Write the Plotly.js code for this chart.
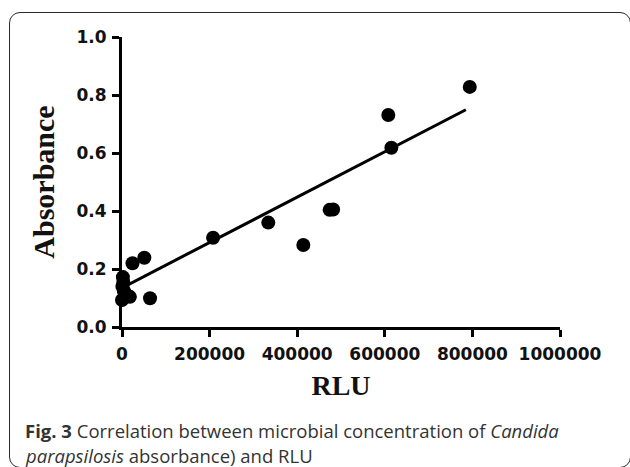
<!DOCTYPE html>
<html>
<head>
<meta charset="utf-8">
<script src="https://cdn.plot.ly/plotly-3.0.1.min.js"></script>
<style>
  html, body { margin: 0; padding: 0; background: #fff; }
  #wrap { position: relative; width: 630px; height: 467px; overflow: hidden; }
  #chart { width: 630px; height: 467px; }
  #frame { position: absolute; left: 9px; top: 12px; width: 622px; height: 456px;
           border: 1.6px solid #2a2a2a; border-radius: 11px; box-sizing: border-box; pointer-events: none; }
</style>
</head>
<body>
<div id="wrap">
  <div id="chart"></div>
  <div id="frame"></div>
</div>
<script>
// Data
const rlu = [0, 2000, 3000, 1000, 4000, 6000, 11000, 18000, 24000, 51000, 64000, 208000, 334000, 414000, 474000, 482000, 608000, 615000, 794000];
const absorbance = [0.093, 0.172, 0.155, 0.140, 0.125, 0.118, 0.110, 0.104, 0.220, 0.239, 0.099, 0.308, 0.360, 0.283, 0.404, 0.405, 0.731, 0.618, 0.828];
// Fitted regression line endpoints (as drawn in the reference)
const fitX = [0, 785000];
const fitY = [0.135, 0.749];
const xTicks = [0, 200000, 400000, 600000, 800000, 1000000];
const xTickText = ['0', '200000', '400000', '600000', '800000', '1000000'];
const yTicks = [0, 0.2, 0.4, 0.6, 0.8, 1.0];
const yTickText = ['0.0', '0.2', '0.4', '0.6', '0.8', '1.0'];

const W = 630, H = 467;
const M = {l: 122, r: 70, t: 37, b: 140};
const pw = W - M.l - M.r, ph = H - M.t - M.b;
const px2x = p => (p - M.l) / pw;
const py2y = p => (H - M.b - p) / ph;

const tickFont = {family: 'DejaVu Sans', size: 17, color: '#111', weight: 'bold'};
const titleFont = {family: 'Liberation Serif', size: 28, color: '#111', weight: 'bold'};
const yTitleFont = {family: 'Liberation Serif', size: 30, color: '#111', weight: 'bold'};
const capFont = {family: 'Open Sans', size: 18.5, color: '#333'};

const traces = [
  {
    x: fitX, y: fitY, type: 'scatter', mode: 'lines',
    line: {color: '#000', width: 3}, hoverinfo: 'skip', showlegend: false
  },
  {
    x: rlu, y: absorbance, type: 'scatter', mode: 'markers',
    marker: {color: '#000', size: 14}, cliponaxis: false, showlegend: false
  }
];

const layout = {
  width: W, height: H,
  margin: M,
  paper_bgcolor: '#fff', plot_bgcolor: '#fff',
  showlegend: false,
  xaxis: {
    range: [0, 1000000], tickvals: xTicks, ticktext: xTickText,
    showgrid: false, zeroline: false, showline: true, linewidth: 3, linecolor: '#000',
    ticks: 'outside', ticklen: 7, tickwidth: 3, tickcolor: '#000',
    tickfont: tickFont, ticklabelstandoff: 3,
    title: {text: 'RLU', font: titleFont, standoff: 12},
    automargin: false
  },
  yaxis: {
    range: [0, 1.0], tickvals: yTicks, ticktext: yTickText,
    showgrid: false, zeroline: false, showline: true, linewidth: 3, linecolor: '#000',
    ticks: 'outside', ticklen: 7, tickwidth: 3, tickcolor: '#000',
    tickfont: tickFont, ticklabelstandoff: 2,
    title: {text: 'Absorbance', font: yTitleFont, standoff: 13},
    automargin: false
  },
  annotations: [
    {
      xref: 'paper', yref: 'paper', x: px2x(23), y: py2y(430),
      xanchor: 'left', yanchor: 'middle', showarrow: false, align: 'left',
      text: '<b>Fig. 3</b> Correlation between microbial concentration of <i>Candida</i>',
      font: capFont
    },
    {
      xref: 'paper', yref: 'paper', x: px2x(23), y: py2y(455),
      xanchor: 'left', yanchor: 'middle', showarrow: false, align: 'left',
      text: '<i>parapsilosis</i> absorbance) and RLU',
      font: capFont
    }
  ]
};

Plotly.newPlot('chart', traces, layout, {displayModeBar: false, staticPlot: true});
</script>
</body>
</html>
